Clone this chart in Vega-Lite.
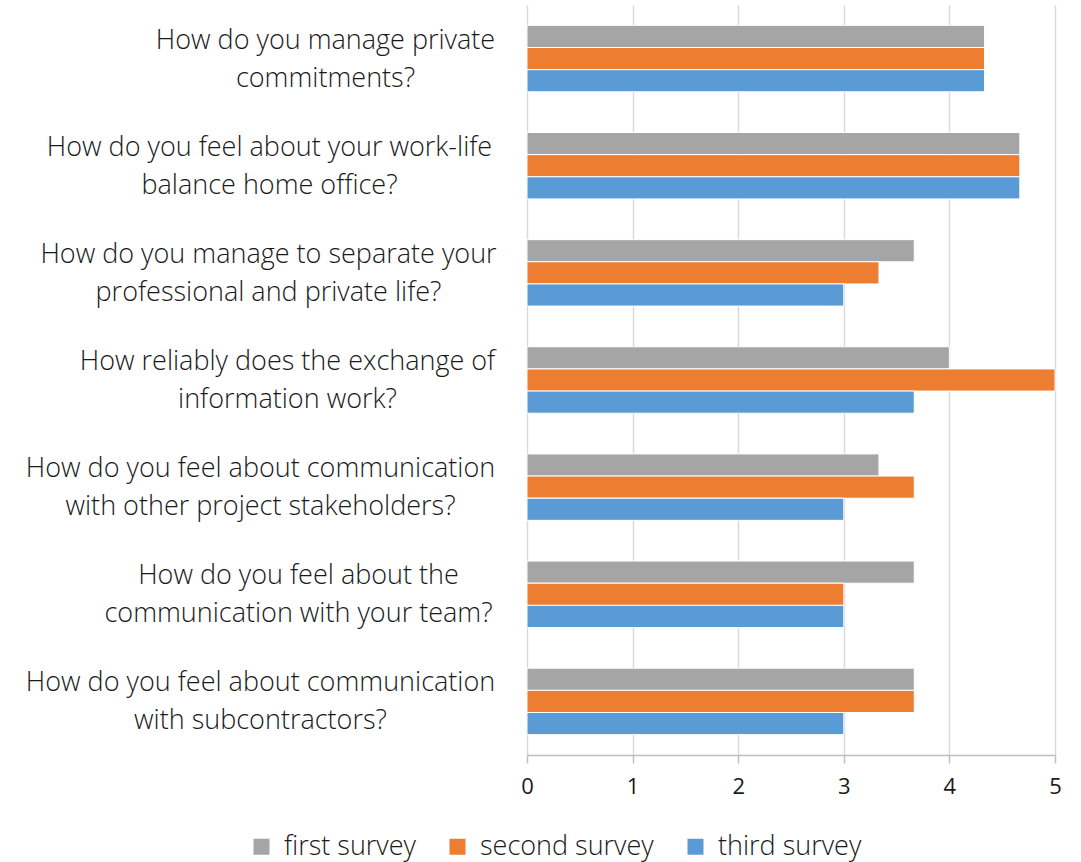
{
  "$schema": "https://vega.github.io/schema/vega-lite/v6.json",
  "width": 528,
  "height": 750,
  "autosize": "none",
  "padding": {"left": 527, "top": 5, "right": 26, "bottom": 107},
  "background": "white",
  "config": {
    "font": "Open Sans",
    "view": {"stroke": null}
  },
  "data": {
    "values": [
      {"q": "How do you manage private|commitments?", "survey": "first survey", "v": 4.333},
      {"q": "How do you manage private|commitments?", "survey": "second survey", "v": 4.333},
      {"q": "How do you manage private|commitments?", "survey": "third survey", "v": 4.333},
      {"q": "How do you feel about your work-life|balance home office?", "survey": "first survey", "v": 4.667},
      {"q": "How do you feel about your work-life|balance home office?", "survey": "second survey", "v": 4.667},
      {"q": "How do you feel about your work-life|balance home office?", "survey": "third survey", "v": 4.667},
      {"q": "How do you manage to separate your|professional and private life?", "survey": "first survey", "v": 3.667},
      {"q": "How do you manage to separate your|professional and private life?", "survey": "second survey", "v": 3.333},
      {"q": "How do you manage to separate your|professional and private life?", "survey": "third survey", "v": 3.0},
      {"q": "How reliably does the exchange of|information work?", "survey": "first survey", "v": 4.0},
      {"q": "How reliably does the exchange of|information work?", "survey": "second survey", "v": 5.0},
      {"q": "How reliably does the exchange of|information work?", "survey": "third survey", "v": 3.667},
      {"q": "How do you feel about communication|with other project stakeholders?", "survey": "first survey", "v": 3.333},
      {"q": "How do you feel about communication|with other project stakeholders?", "survey": "second survey", "v": 3.667},
      {"q": "How do you feel about communication|with other project stakeholders?", "survey": "third survey", "v": 3.0},
      {"q": "How do you feel about the|communication with your team?", "survey": "first survey", "v": 3.667},
      {"q": "How do you feel about the|communication with your team?", "survey": "second survey", "v": 3.0},
      {"q": "How do you feel about the|communication with your team?", "survey": "third survey", "v": 3.0},
      {"q": "How do you feel about communication|with subcontractors?", "survey": "first survey", "v": 3.667},
      {"q": "How do you feel about communication|with subcontractors?", "survey": "second survey", "v": 3.667},
      {"q": "How do you feel about communication|with subcontractors?", "survey": "third survey", "v": 3.0}
    ]
  },
  "mark": {"type": "bar", "stroke": "white", "strokeWidth": 1},
  "encoding": {
    "y": {
      "field": "q",
      "type": "nominal",
      "sort": null,
      "scale": {"paddingInner": 0.38, "paddingOuter": 0.19},
      "axis": {
        "title": null,
        "domain": false,
        "ticks": false,
        "labelExpr": "split(datum.label, '|')",
        "labelFontSize": 27,
        "labelFontWeight": 300,
        "labelColor": "#1a1a1a",
        "labelAlign": "center",
        "labelBaseline": "middle",
        "labelOffset": -18,
        "labelPadding": {
          "condition": [
            {"test": "datum.value === 'How do you manage private|commitments?'", "value": 202},
            {"test": "datum.value === 'How do you feel about your work-life|balance home office?'", "value": 258},
            {"test": "datum.value === 'How do you manage to separate your|professional and private life?'", "value": 259},
            {"test": "datum.value === 'How reliably does the exchange of|information work?'", "value": 240},
            {"test": "datum.value === 'How do you feel about the|communication with your team?'", "value": 229}
          ],
          "value": 267
        },
        "labelLineHeight": 38,
        "labelLimit": 600
      }
    },
    "yOffset": {"field": "survey", "type": "nominal", "sort": ["first survey", "second survey", "third survey"], "scale": {"paddingInner": 0, "paddingOuter": 0}},
    "x": {
      "field": "v",
      "type": "quantitative",
      "scale": {"domain": [0, 5], "nice": false},
      "axis": {
        "title": null,
        "values": [0, 1, 2, 3, 4, 5],
        "grid": true,
        "gridColor": "#d9d9d9",
        "gridWidth": 1.5,
        "domainColor": "#bfbfbf",
        "domainWidth": 1.5,
        "tickColor": "#bfbfbf",
        "tickSize": 8,
        "tickWidth": 1.5,
        "labelFontSize": 22,
        "labelColor": "#1a1a1a",
        "labelPadding": 13,
        "labelFlush": false
      }
    },
    "color": {
      "field": "survey",
      "type": "nominal",
      "sort": ["first survey", "second survey", "third survey"],
      "scale": {"domain": ["first survey", "second survey", "third survey"], "range": ["#a5a5a5", "#ed7d31", "#5b9bd5"]},
      "legend": {
        "title": null,
        "orient": "none",
        "direction": "horizontal",
        "legendX": -279,
        "legendY": 828,
        "symbolType": "square",
        "symbolSize": 256,
        "symbolStrokeWidth": 0,
        "labelFontSize": 27,
        "labelFontWeight": 300,
        "labelColor": "#1a1a1a",
        "labelOffset": 9,
        "labelLimit": 400,
        "columnPadding": 28
      }
    }
  }
}
